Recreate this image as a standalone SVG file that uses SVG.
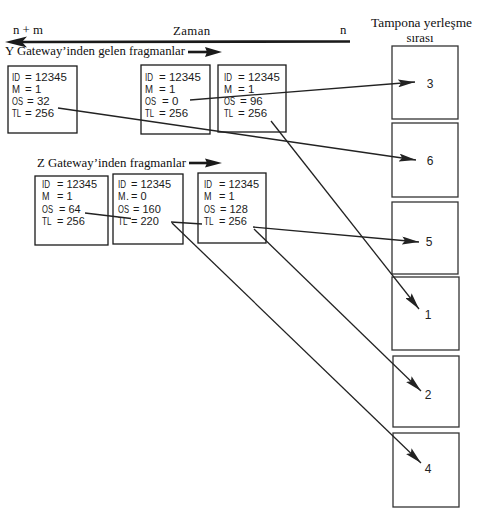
<svg xmlns="http://www.w3.org/2000/svg" width="482" height="516" viewBox="0 0 482 516">
<style>
.bg{fill:#fff}
.serif{font-family:"Liberation Serif","Times New Roman",serif;font-size:12.8px;fill:#111}
.frag rect{fill:#fff;stroke:#1a1a1a;stroke-width:1.3}
.frag text{font-family:"Liberation Sans",Arial,sans-serif;font-size:11.5px;fill:#1a1a1a}
.zf text{font-size:11px}
.buf rect{fill:#fff;stroke:#333;stroke-width:1.3}
.buf text{font-family:"Liberation Sans",Arial,sans-serif;font-size:12px;fill:#222;text-anchor:middle}
.conn line{stroke:#222;stroke-width:1.3;fill:none}
.thick{stroke:#1a1a1a;stroke-width:2.6}
.head{fill:#1a1a1a}
</style>
<defs>
<marker id="ah" markerWidth="18" markerHeight="8" refX="17" refY="4" orient="auto" markerUnits="userSpaceOnUse">
<path d="M0,0 L17,4 L0,8 L3,4 z" fill="#222"/>
</marker>
</defs>
<rect class="bg" x="0" y="0" width="482" height="516"/>

<g id="time-axis">
<text class="serif" x="13" y="34">n + m</text>
<text class="serif" x="173" y="35" letter-spacing="0.4">Zaman</text>
<text class="serif" x="340" y="34">n</text>
<line class="thick" x1="350" y1="41.5" x2="22" y2="42"/>
<polygon class="head" points="5,42 27,36.5 22,42 27,47.5"/>
</g>

<g id="buffer-title">
<text class="serif" x="371" y="27" textLength="101" lengthAdjust="spacingAndGlyphs">Tampona yerleşme</text>
<text class="serif" x="420" y="42" text-anchor="middle">sırası</text>
</g>

<g id="y-label">
<text class="serif" x="5" y="55" textLength="180" lengthAdjust="spacingAndGlyphs">Y Gateway’inden gelen fragmanlar</text>
<line class="thick" x1="188" y1="52" x2="208" y2="52"/>
<polygon class="head" points="222,52 205,47 207,52 205,57"/>
</g>

<g id="z-label">
<text class="serif" x="37" y="167" textLength="149" lengthAdjust="spacingAndGlyphs">Z Gateway’inden fragmanlar</text>
<line class="thick" x1="189" y1="163" x2="207" y2="163"/>
<polygon class="head" points="222,163 205,158.5 207,163 205,167.5"/>
</g>

<g id="y-frag-1" class="frag">
<rect x="8" y="66" width="69" height="67"/>
<text x="12" y="81" textLength="8" lengthAdjust="spacingAndGlyphs">ID</text><text x="25" y="81">= 12345</text>
<text x="12" y="93" textLength="8" lengthAdjust="spacingAndGlyphs">M</text><text x="25" y="93">= 1</text>
<text x="12" y="105" textLength="11" lengthAdjust="spacingAndGlyphs">OS</text><text x="27" y="105">= 32</text>
<text x="12" y="117" textLength="9" lengthAdjust="spacingAndGlyphs">TL</text><text x="25" y="117">= 256</text>
</g>

<g id="y-frag-2" class="frag">
<rect x="141" y="65" width="69" height="69"/>
<text x="145" y="81" textLength="8" lengthAdjust="spacingAndGlyphs">ID</text><text x="159" y="81">= 12345</text>
<text x="145" y="93" textLength="8" lengthAdjust="spacingAndGlyphs">M</text><text x="159" y="93">= 1</text>
<text x="145" y="105" textLength="11" lengthAdjust="spacingAndGlyphs">OS</text><text x="162" y="105">= 0</text>
<text x="145" y="117" textLength="9" lengthAdjust="spacingAndGlyphs">TL</text><text x="159" y="117">= 256</text>
</g>

<g id="y-frag-3" class="frag">
<rect x="218" y="65" width="68" height="67"/>
<text x="224" y="81" textLength="8" lengthAdjust="spacingAndGlyphs">ID</text><text x="238" y="81">= 12345</text>
<text x="224" y="93" textLength="8" lengthAdjust="spacingAndGlyphs">M</text><text x="238" y="93">= 1</text>
<text x="224" y="105" textLength="11" lengthAdjust="spacingAndGlyphs">OS</text><text x="240" y="105">= 96</text>
<text x="224" y="117" textLength="9" lengthAdjust="spacingAndGlyphs">TL</text><text x="238" y="117">= 256</text>
</g>

<g id="z-frag-1" class="frag zf">
<rect x="35" y="176" width="73" height="69"/>
<text x="42" y="188" textLength="8" lengthAdjust="spacingAndGlyphs">ID</text><text x="57" y="188">= 12345</text>
<text x="42" y="200" textLength="7.5" lengthAdjust="spacingAndGlyphs">M</text><text x="57" y="200">= 1</text>
<text x="42" y="212.5" textLength="11" lengthAdjust="spacingAndGlyphs">OS</text><text x="59" y="212.5">= 64</text>
<text x="42" y="225" textLength="9.5" lengthAdjust="spacingAndGlyphs">TL</text><text x="57" y="225">= 256</text>
</g>

<g id="z-frag-2" class="frag zf">
<rect x="113" y="174" width="70" height="70"/>
<text x="118" y="188" textLength="8" lengthAdjust="spacingAndGlyphs">ID</text><text x="131" y="188">= 12345</text>
<text x="118" y="200" textLength="7.5" lengthAdjust="spacingAndGlyphs">M</text><text x="126" y="200">.</text><text x="131" y="200">= 0</text>
<text x="118" y="212.5" textLength="11" lengthAdjust="spacingAndGlyphs">OS</text><text x="133" y="212.5">= 160</text>
<text x="118" y="225" textLength="9.5" lengthAdjust="spacingAndGlyphs">TL</text><text x="131" y="225">= 220</text>
</g>

<g id="z-frag-3" class="frag zf">
<rect x="198" y="173" width="68" height="70"/>
<text x="204" y="188" textLength="8" lengthAdjust="spacingAndGlyphs">ID</text><text x="219" y="188">= 12345</text>
<text x="204" y="200" textLength="7.5" lengthAdjust="spacingAndGlyphs">M</text><text x="219" y="200">= 1</text>
<text x="204" y="212.5" textLength="11" lengthAdjust="spacingAndGlyphs">OS</text><text x="220" y="212.5">= 128</text>
<text x="204" y="225" textLength="9.5" lengthAdjust="spacingAndGlyphs">TL</text><text x="219" y="225">= 256</text>
</g>

<g id="buf-3" class="buf"><rect x="392" y="46" width="66" height="73"/><text x="430" y="88">3</text></g>
<g id="buf-6" class="buf"><rect x="392" y="123" width="66" height="74"/><text x="430" y="165">6</text></g>
<g id="buf-5" class="buf"><rect x="392" y="202" width="66" height="72"/><text x="429" y="246">5</text></g>
<g id="buf-1" class="buf"><rect x="392" y="277" width="67" height="73"/><text x="428" y="319">1</text></g>
<g id="buf-2" class="buf"><rect x="393" y="356" width="66" height="71"/><text x="428" y="399">2</text></g>
<g id="buf-4" class="buf"><rect x="393" y="433" width="66" height="74"/><text x="428" y="473">4</text></g>

<g id="connectors" class="conn">
<line x1="190" y1="100" x2="415" y2="82" marker-end="url(#ah)"/>
<line x1="58" y1="108" x2="416" y2="160" marker-end="url(#ah)"/>
<line x1="271" y1="121" x2="419" y2="309" marker-end="url(#ah)"/>
<line x1="253" y1="227" x2="419" y2="242" marker-end="url(#ah)"/>
<line x1="254" y1="229" x2="421" y2="391" marker-end="url(#ah)"/>
<line x1="172" y1="223" x2="421" y2="463" marker-end="url(#ah)"/>
<line x1="85" y1="213" x2="131" y2="218.5"/>
<line x1="171" y1="222" x2="202" y2="224"/>
</g>
</svg>
